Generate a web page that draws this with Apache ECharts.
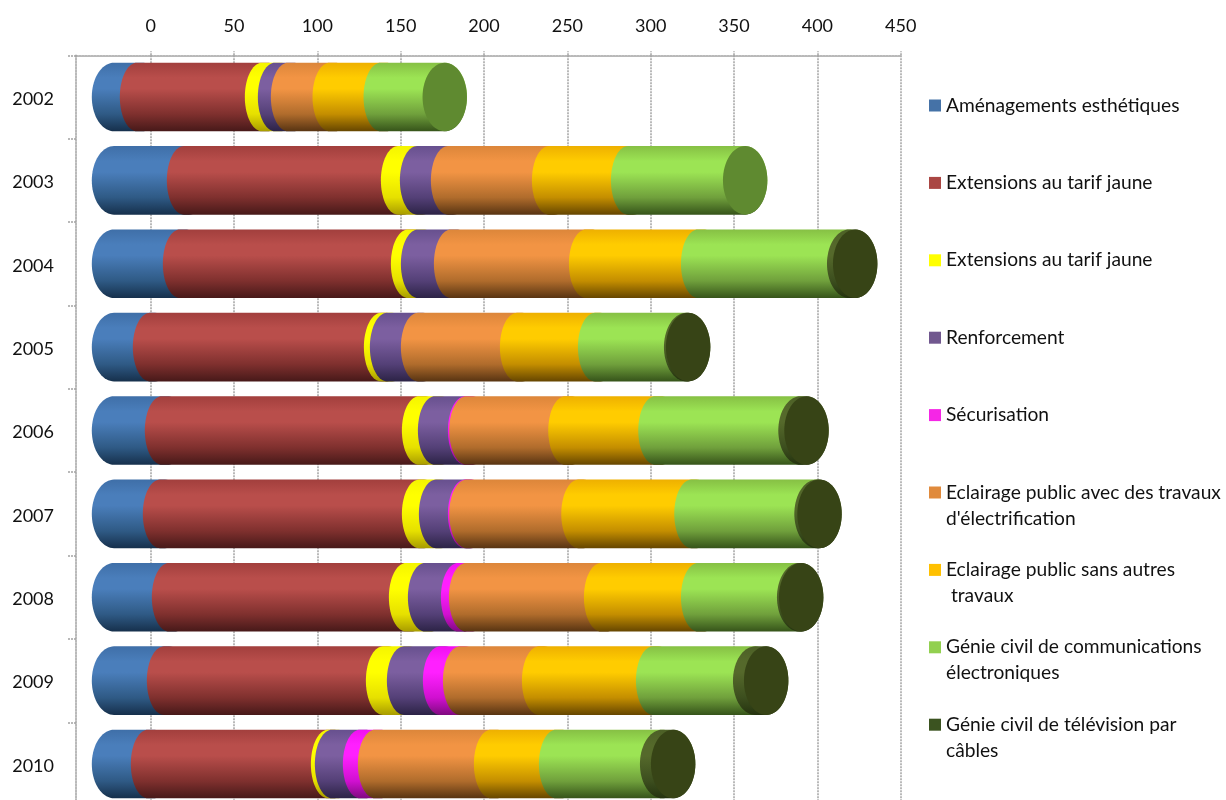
<!DOCTYPE html>
<html>
<head>
<meta charset="utf-8">
<style>html,body{margin:0;padding:0;background:#fff}#c{width:1226px;height:800px}</style>
<script src="https://cdn.jsdelivr.net/npm/echarts@6/dist/echarts.min.js"></script>
</head>
<body>
<div id="c"></div>
<script>
const years = ['2002','2003','2004','2005','2006','2007','2008','2009','2010'];
const tickValues = [0,50,100,150,200,250,300,350,400,450];

const seriesNames = [
  'Aménagements esthétiques',
  'Extensions au tarif jaune',
  'Extensions au tarif jaune ',
  'Renforcement',
  'Sécurisation',
  "Eclairage public avec des travaux\nd'électrification",
  'Eclairage public sans autres\n travaux',
  'Génie civil de communications\nélectroniques',
  'Génie civil de télévision par\ncâbles'
];

const amenagements = [16.8, 45, 42.6, 24.6, 31.8, 30.6, 36, 33, 23.4];
const extensionsA  = [75, 128.4, 136.8, 138.6, 154.2, 155.4, 142.2, 131.4, 108];
const extensionsB  = [7.8, 11.4, 6, 3.6, 9.6, 10.2, 11.4, 12.6, 2.4];
const renforcement = [7.8, 18.6, 19.8, 18.6, 18, 17.4, 19.8, 21.6, 16.8];
const securisation = [0, 0, 0, 0, 0.8, 0.8, 4.8, 12, 9];
const eclairageAvec = [25, 60.6, 81, 59.4, 59.4, 67.2, 81, 47.4, 69.6];
const eclairageSans = [30.6, 47.4, 67.2, 46.8, 54, 67.8, 58.2, 68.4, 39];
const genieComm = [35.4, 67.2, 87.6, 51.6, 84, 72, 57.6, 58.2, 60.6];
const genieTele = [0, 0, 3.6, 1.2, 3.6, 1.8, 1.2, 6.6, 6.6];

const allValues = [amenagements, extensionsA, extensionsB, renforcement, securisation, eclairageAvec, eclairageSans, genieComm, genieTele];

const legendColors = ['#4572a7','#aa4643','#ffff00','#71588f','#f526e6','#e08a3c','#ffc000','#92d050','#3b5320'];
const gradients = [
  ['#3f6fa8','#4a7ebb','#2f5a85','#16304c'],
  ['#a23f3d','#b94e4b','#7f302e','#471919'],
  ['#f4f400','#ffff00','#e6e000','#a89c00'],
  ['#67508e','#7c5fa0','#544077','#2c2346'],
  ['#f010f0','#ff20ff','#d010d0','#800a80'],
  ['#dc863a','#f29444','#b06c2c','#583412'],
  ['#eeb000','#ffcc00','#c48e00','#664600'],
  ['#86c044','#9ce454','#70a03c','#36541a'],
  ['#4c6026','#55692b','#3c4e1e','#25330f']
];
const capColors = {7:'#5f8a30', 8:'#374416'};

function stackedRows(si){
  return years.map((y,i)=>{
    let start = 0;
    for(let k=0;k<si;k++) start += allValues[k][i];
    return [i, start, start + allValues[si][i]];
  });
}
function isLast(si,row){
  for(let k=si+1;k<allValues.length;k++) if(allValues[k][row]>0) return false;
  return true;
}
function barSeries(si){
  return {
    type:'custom',
    name:seriesNames[si],
    coordinateSystem:'cartesian2d',
    xAxisIndex:1,
    yAxisIndex:0,
    itemStyle:{color:legendColors[si]},
    encode:{x:[1,2],y:0},
    data:stackedRows(si),
    z:10+si,
    silent:true,
    renderItem:function(params,api){
      const row = api.value(0), a = api.value(1), b = api.value(2);
      if(b-a<=0) return null;
      const p0 = api.coord([a,row]), p1 = api.coord([b,row]);
      const h = api.size([0,1])[1]*0.822;
      const ry = h/2, rx = h*0.324;
      // inner joints look flatter than the end cap; the left extreme stays on the value
      const innerRx = (si>0 && si<8) ? rx*0.77 : rx;
      const leftCx = p0[0] - (rx - innerRx);
      const pts = [];
      const N = 36;
      for(let i=0;i<=N;i++){
        const t = Math.PI/2 + Math.PI*i/N; // top -> left -> bottom
        pts.push([leftCx+innerRx*Math.cos(t), p0[1]-ry*Math.sin(t)]);
      }
      for(let i=0;i<=N;i++){
        const t = -Math.PI/2 + Math.PI*i/N; // bottom -> right -> top
        pts.push([p1[0]+rx*Math.cos(t), p1[1]-ry*Math.sin(t)]);
      }
      const g = gradients[si];
      const children = [{
        type:'polygon',
        shape:{points:pts},
        style:{fill:new echarts.graphic.LinearGradient(0,0,0,1,[
          {offset:0,color:g[0]},{offset:0.22,color:g[1]},{offset:0.38,color:g[1]},
          {offset:0.75,color:g[2]},{offset:1,color:g[3]}
        ])}
      }];
      if(isLast(si,row)){
        children.push({
          type:'ellipse',
          shape:{cx:p1[0],cy:p1[1],rx:rx,ry:ry},
          style:{fill:capColors[si]||g[1]}
        });
      }
      return {type:'group',children:children};
    }
  };
}

const legendFirstLine = 105.5, legendStep = 77.4, legendLine = 26;
const legends = seriesNames.map((n,i)=>{
  const multi = n.indexOf('\n')>=0;
  return {
    show:true,
    data:[n],
    orient:'vertical',
    left:929,
    top:legendFirstLine + i*legendStep - (multi?1.5:0.5)*legendLine,
    padding:0,
    itemWidth:12,itemHeight:12,
    itemGap:0,
    selectedMode:false,
    icon:'rect',
    formatter:function(name){return name.indexOf('\n')>=0 ? '\n'+name : name;},
    textStyle:{fontFamily:'Lato',fontSize:19.2,color:'#111',lineHeight:legendLine}
  };
});

const axisGrey = '#a3a3a3';
const lineStyle = {color:axisGrey,width:1.5,type:[2,1]};
const chart = echarts.init(document.getElementById('c'),null,{renderer:'canvas'});
chart.setOption({
  animation:false,
  backgroundColor:'#fff',
  grid:{left:76,top:55.3,width:824.7,height:750.4,containLabel:false,outerBoundsMode:'none'},
  legend:legends,
  xAxis:[
    {
      type:'value',position:'top',min:-44.8,max:450,
      axisLine:{show:true,lineStyle:lineStyle},
      axisTick:{show:true,length:4,lineStyle:lineStyle,customValues:tickValues},
      axisLabel:{customValues:tickValues,margin:20,fontFamily:'Lato',fontSize:18,color:'#111'},
      splitLine:{show:true,lineStyle:lineStyle}
    },
    {
      type:'value',position:'top',show:false,min:-22.8,max:471.9,
      splitLine:{show:false}
    }
  ],
  yAxis:{
    type:'category',inverse:true,data:years,
    axisLine:{show:true,onZero:false,lineStyle:lineStyle},
    axisTick:{show:true,length:8,alignWithLabel:false,lineStyle:lineStyle},
    axisLabel:{
      margin:22,fontFamily:'Lato',fontSize:18,color:'#111',
      formatter:'{y|{value}}',
      rich:{y:{fontFamily:'Lato',fontSize:18,color:'#111',padding:[4,0,0,0]}}
    },
    splitLine:{show:false}
  },
  series:seriesNames.map((n,i)=>barSeries(i))
});
</script>
</body>
</html>
